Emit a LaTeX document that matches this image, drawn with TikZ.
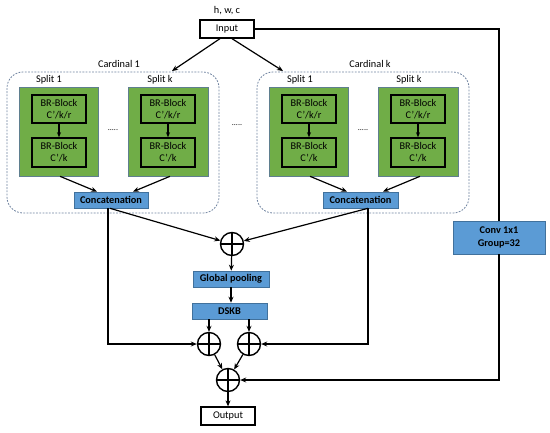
\documentclass[tikz,border=0pt]{standalone}
\usepackage{fontspec}
\setmainfont{Carlito}
\usetikzlibrary{arrows.meta}
\definecolor{gfill}{HTML}{70AD47}
\definecolor{gline}{HTML}{5F7F8F}
\definecolor{bfill}{HTML}{5B9BD5}
\definecolor{bline}{HTML}{41719C}
\definecolor{dline}{HTML}{6F83A0}
\begin{document}
\begin{tikzpicture}[x=1pt,y=-1pt,
  txt/.style={font=\fontsize{10.3}{12}\selectfont, inner sep=0},
  wbox/.style={draw, line width=1.3pt, fill=white, inner sep=0, font=\fontsize{10.3}{12}\selectfont},
  gbox/.style={draw=gline, line width=0.6pt, fill=gfill, inner sep=0, minimum height=89},
  brbox/.style={draw, line width=1.5pt, fill=gfill, inner sep=0, align=center, minimum width=54, font=\fontsize{10.3}{11.8}\selectfont},
  bbox/.style={draw=bline, line width=0.6pt, fill=bfill, inner sep=0, align=center, font=\fontsize{10.3}{12.5}\selectfont\bfseries, minimum height=16},
  card/.style={draw=dline, line width=0.8pt, dash pattern=on 1.8pt off 1.4pt, rounded corners=16},
  arr/.style={-{Stealth[length=6pt,width=5pt]}, line width=1.2pt},
  ln/.style={line width=1.2pt},
  sumnode/.style={circle, draw, line width=1.4pt, minimum size=23, inner sep=0,
    path picture={\draw[line width=1.4pt] (path picture bounding box.north) -- (path picture bounding box.south)
      (path picture bounding box.west) -- (path picture bounding box.east);}}
]
\useasboundingbox (0,0) rectangle (550,432);
\fill[white] (0,0) rectangle (550,432);

% cardinal frames
\draw[card] (7,72) rectangle (219,213);
\draw[card] (257,72) rectangle (469,213);

% input
\node[txt] (hwc) at (227,11) {h, w, c};
\node[wbox, minimum width=54, minimum height=18] (in) at (227,29) {Input};

\node[txt] (c1lab) at (119,64) {Cardinal 1};
\node[txt] (cklab) at (370,64) {Cardinal k};
\node[txt] (s11) at (49,80) {Split 1};
\node[txt] (s1k) at (160,80) {Split k};
\node[txt] (sk1) at (300,80) {Split 1};
\node[txt] (skk) at (409,80) {Split k};

% green boxes
\node[gbox, minimum width=79] (g11) at (58.5,131.5) {};
\node[gbox, minimum width=80] (g12) at (168,131.5) {};
\node[gbox, minimum width=79] (gk1) at (308.5,131.5) {};
\node[gbox, minimum width=80] (gk2) at (418,131.5) {};

\foreach \n/\x in {a/59, b/168, c/309, d/418}{
  \node[brbox, minimum height=28] (\n t) at (\x,109) {BR-Block\\C\textquoteright/k/r};
  \node[brbox, minimum height=29] (\n b) at (\x,152.5) {BR-Block\\C\textquoteright/k};
  \draw[-{Stealth[length=5pt,width=4pt]}, line width=1.1pt] (\n t) -- (\n b);
}

\node[txt, font=\fontsize{8}{10}\selectfont] (d1) at (113,130) {.....};
\node[txt, font=\fontsize{8}{10}\selectfont] (d2) at (237,125) {.....};
\node[txt, font=\fontsize{8}{10}\selectfont] (d3) at (363,130) {.....};

% concatenation
\node[bbox, minimum width=74] (cc1) at (111,200) {Concatenation};
\node[bbox, minimum width=75] (cck) at (360.5,200) {Concatenation};

\draw[arr] ([xshift=1.5]g11.south) -- ([xshift=-14]cc1.north);
\draw[arr] ([xshift=2]g12.south) -- ([xshift=22]cc1.north);
\draw[arr] ([xshift=1.5]gk1.south) -- ([xshift=-13.5]cck.north);
\draw[arr] ([xshift=2]gk2.south) -- ([xshift=22.5]cck.north);

% input arrows
\coordinate (t1) at (172,71);
\coordinate (tk) at (283,71);
\draw[arr] ([xshift=-7]in.south) -- (t1);
\draw[arr] ([xshift=5]in.south) -- (tk);

% sums
\node[sumnode] (s0) at (232,244) {};
\node[bbox, minimum width=76] (gp) at (231,279) {Global pooling};
\node[bbox, minimum width=75] (dskb) at (229.5,311) {DSKB};
\node[sumnode] (sa) at (209,344) {};
\node[sumnode] (sb) at (249,344) {};
\node[sumnode] (sc) at (228,380) {};
\node[wbox, minimum width=54, minimum height=18] (out) at (228,416) {Output};
\node[bbox, minimum width=92, minimum height=33] (conv) at (499,237.5) {Conv 1x1\\Group=32};

\draw[arr] ([xshift=-1]cc1.south) -- (s0);
\draw[arr] ([xshift=7.5]cck.south) -- (s0);
\draw[arr] (s0) -- (gp);
\draw[arr] (gp) -- ([xshift=1.5]dskb.north);
\draw[arr] ([xshift=-3]cc1.south) |- (sa);
\draw[arr] ([xshift=7.5]cck.south) |- (sb);
\draw[arr] (dskb.south -| sa.north) -- (sa);
\draw[arr] (dskb.south -| sb.north) -- (sb);
\draw[arr] (sa) -- (sc);
\draw[arr] (sb) -- (sc);
\draw[arr] (sc) -- (out);

\draw[ln] (in.east) -| (conv.north);
\draw[arr] (conv.south) |- (sc);
\end{tikzpicture}
\end{document}
